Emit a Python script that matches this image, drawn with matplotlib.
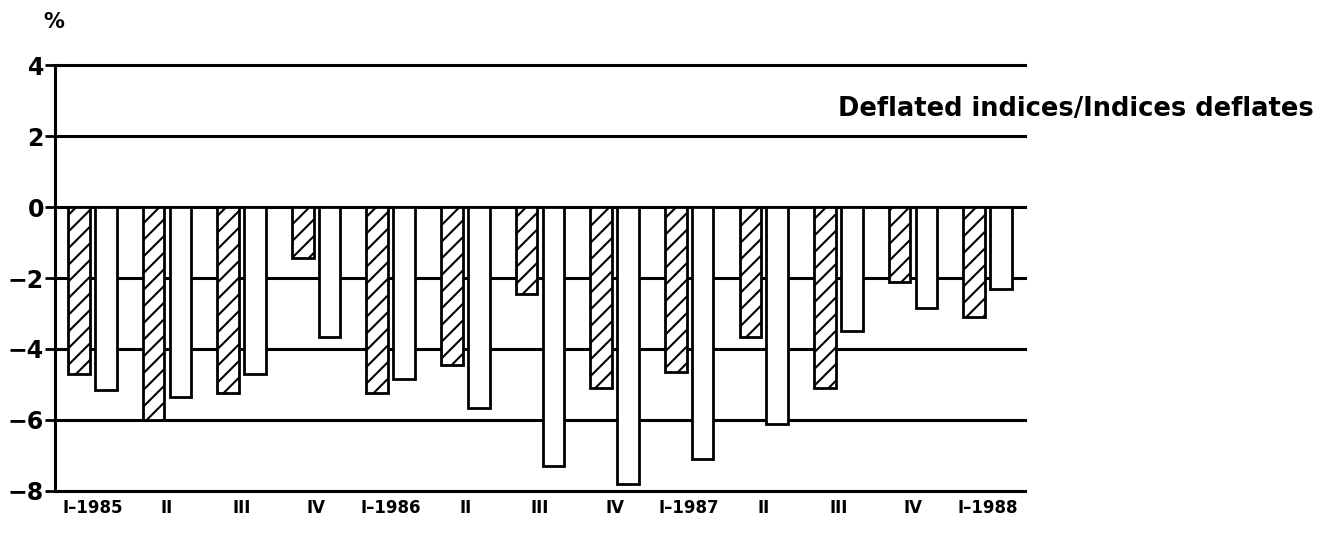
#!/usr/bin/env python3

import numpy as np
from matplotlib import pyplot as plt

quarters = ['I–1985', 'II', 'III', 'IV', 'I–1986', 'II', 'III', 'IV',
            'I–1987', 'II', 'III', 'IV', 'I–1988']
hatched = [-4.7, -6.0, -5.25, -1.45, -5.25, -4.45, -2.45, -5.1,
           -4.65, -3.65, -5.1, -2.1, -3.1]
plain = [-5.15, -5.35, -4.7, -3.65, -4.85, -5.65, -7.3, -7.8,
         -7.1, -6.1, -3.5, -2.85, -2.3]

plt.rcParams['hatch.linewidth'] = 1.5

if __name__ == '__main__':
  fig = plt.figure(figsize=(13.22, 5.56), dpi=100)
  ax = fig.add_axes([0.0416, 0.117, 0.7337, 0.766])

  x = np.arange(len(quarters))
  w = 0.29
  ax.bar(x - 0.18, hatched, w, color='white', edgecolor='black',
         linewidth=2, hatch='//', zorder=3)
  ax.bar(x + 0.18, plain, w, color='white', edgecolor='black',
         linewidth=2, zorder=3)

  for y in range(-8, 5, 2):
    ax.axhline(y, color='black', linewidth=2.2, zorder=1, clip_on=False)

  ax.set_xlim(-0.5, 12.5)
  ax.set_ylim(-8, 4)
  ax.set_yticks(range(-8, 5, 2))
  ax.set_yticklabels([str(v).replace('-', '−') for v in range(-8, 5, 2)],
                     fontsize=17, fontweight='bold')
  ax.set_xticks(x)
  ax.set_xticklabels(quarters, fontsize=12, fontweight='bold')
  ax.tick_params(axis='x', length=0, pad=6)
  ax.tick_params(axis='y', length=7, width=2, pad=1)
  for s in ['top', 'right', 'bottom']:
    ax.spines[s].set_visible(False)
  ax.spines['left'].set_linewidth(2.2)

  ax.text(10.0, 2.75, 'Deflated indices/Indices deflates', fontsize=18.5,
          fontweight='bold', va='center', ha='left', clip_on=False)
  fig.text(0.033, 0.95, '%', fontsize=15, fontweight='bold')

  plt.savefig('out.png', dpi=100)
